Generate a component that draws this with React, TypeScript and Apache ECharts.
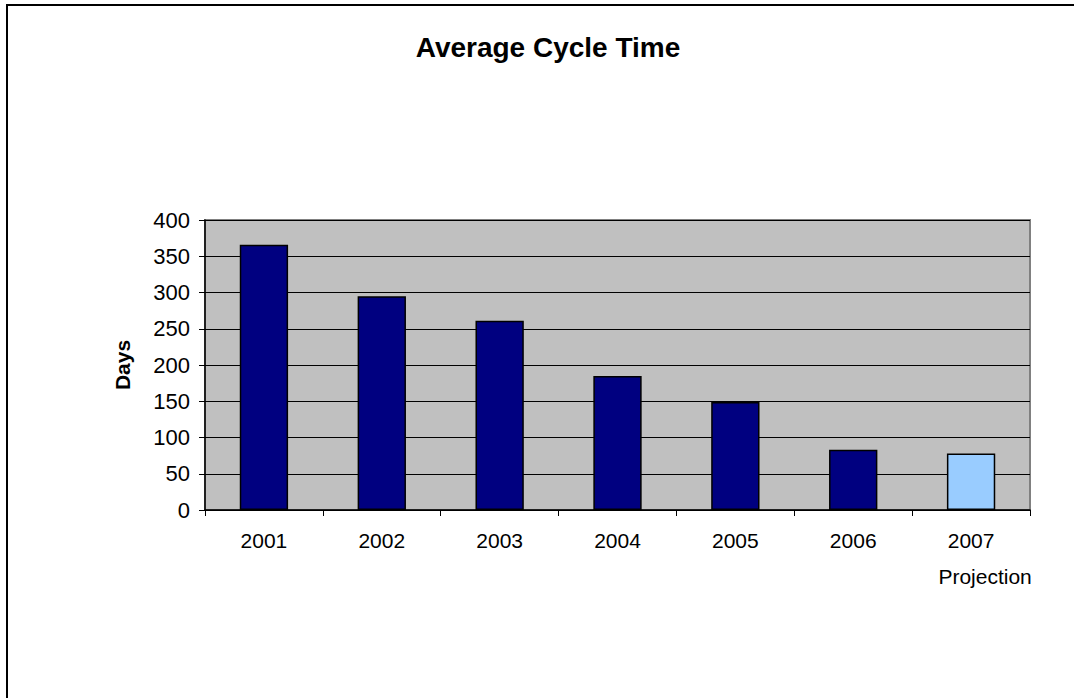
import React, { useEffect, useRef } from "react";
import * as echarts from "echarts";

const categories = ["2001", "2002", "2003", "2004", "2005", "2006", "2007\n{p|Projection}"];
const values = [366, 295, 261, 185, 149, 83, 78];
const barColors = ["#000080", "#000080", "#000080", "#000080", "#000080", "#000080", "#99ccff"];
const titleText = "Average Cycle Time";
const yAxisName = "Days";

export default function App() {
  const ref = useRef<HTMLDivElement>(null);
  useEffect(() => {
    document.body.style.margin = "0";
    const chart = echarts.init(ref.current!, null, { renderer: "svg" });
    const font = "Liberation Sans, Arial, sans-serif";
    chart.setOption({
      animation: false,
      backgroundColor: "#ffffff",
      title: {
        text: titleText,
        left: 543,
        textAlign: "center",
        top: 28,
        textStyle: { fontFamily: font, fontSize: 28, fontWeight: "bold", color: "#000" },
      },
      graphic: [
        {
          type: "rect",
          shape: { x: 7, y: 5, width: 1100, height: 720 },
          style: { fill: "none", stroke: "#000", lineWidth: 2 },
          z: 100,
        },
      ],
      grid: {
        left: 205,
        top: 220,
        width: 825,
        height: 290,
        show: true,
        backgroundColor: "#c0c0c0",
        borderColor: "#808080",
        borderWidth: 2,
      },
      xAxis: {
        type: "category",
        data: categories,
        axisLine: { show: true, lineStyle: { color: "#000", width: 1.5 } },
        axisTick: { show: true, length: 6, lineStyle: { color: "#000" } },
        axisLabel: {
          fontFamily: font,
          fontSize: 21,
          color: "#000",
          margin: 12,
          lineHeight: 36,
          interval: 0,
          rich: {
            p: { fontFamily: font, fontSize: 21, color: "#000", lineHeight: 36, padding: [0, 0, 0, 28] },
          },
        },
      },
      yAxis: {
        type: "value",
        min: 0,
        max: 400,
        interval: 50,
        name: yAxisName,
        nameLocation: "middle",
        nameGap: 72,
        nameTextStyle: { fontFamily: font, fontSize: 21, fontWeight: "bold", color: "#000" },
        axisLine: { show: true, lineStyle: { color: "#000", width: 1.5 } },
        axisTick: { show: true, length: 6, lineStyle: { color: "#000" } },
        axisLabel: { fontFamily: font, fontSize: 22, color: "#000", margin: 15 },
        splitLine: { show: true, lineStyle: { color: "#000", width: 1 } },
      },
      series: [
        {
          type: "bar",
          data: values.map((v, i) => ({ value: v, itemStyle: { color: barColors[i] } })),
          barWidth: "41%",
          itemStyle: { borderColor: "#000", borderWidth: 1.5 },
        },
      ],
    });
    return () => chart.dispose();
  }, []);
  return <div ref={ref} style={{ width: 1074, height: 698 }} />;
}
